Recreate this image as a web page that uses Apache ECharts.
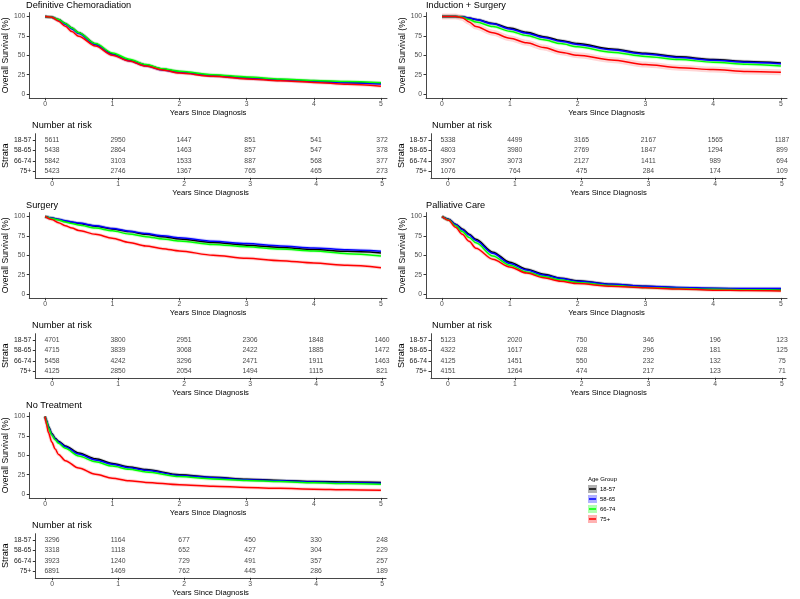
<!DOCTYPE html>
<html>
<head>
<meta charset="utf-8">
<script src="https://cdn.jsdelivr.net/npm/echarts@6/dist/echarts.min.js"></script>
<style>
  html, body { margin: 0; padding: 0; background: #fff; }
  #chart { width: 800px; height: 599px; }
</style>
</head>
<body>
<div id="chart"></div>
<script>
const strata = ['18-57', '58-65', '66-74', '75+'];
const strataColors = ['#000000', '#0000ff', '#00ff00', '#ff0000'];
const bandColors = ['rgba(0,0,0,0.3)', 'rgba(0,0,255,0.3)', 'rgba(0,255,0,0.3)', 'rgba(255,0,0,0.3)'];
const riskYears = [0, 1, 2, 3, 4, 5];
const tickYears = [0, 1, 2, 3, 4, 5];
const tickSurvival = [0, 25, 50, 75, 100];

const years = [0, 0.1, 0.2, 0.3, 0.4, 0.5, 0.75, 1, 1.25, 1.5, 1.75, 2, 2.5, 3, 3.5, 4, 4.5, 5];
const yearsNoTreatment = [0, 0.02, 0.05, 0.1, 0.15, 0.2, 0.3, 0.5, 0.75, 1, 1.25, 1.5, 2, 2.5, 3, 3.5, 4, 4.5, 5];

// survival (%) per age group: 18-57, 58-65, 66-74, 75+
const chemoradiationSurvival = [
  [100, 99, 96, 91, 85, 79, 64.5, 52, 44, 37.5, 32, 28.5, 24, 21, 18.5, 16.5, 15, 14],
  [100, 99, 95.5, 90, 84, 78, 63.5, 51, 43, 36.5, 31, 28, 23.5, 20.5, 18, 16, 14.5, 13],
  [100, 99, 96, 91, 85, 79, 65, 53, 45, 38, 32.5, 29.5, 25, 22, 19.5, 17.5, 16, 14.5],
  [100, 99, 94, 87.5, 80.5, 74.5, 62, 50, 42.5, 36, 31, 27, 23, 19.5, 17, 15, 12.5, 10]
];
const inductionSurvival = [
  [100, 100, 100, 99.5, 98, 96, 91, 85, 79.5, 74, 69, 65, 58, 52.5, 48, 44.5, 42, 40],
  [100, 100, 100, 99.5, 98, 96, 90.5, 84, 78.5, 73, 68, 64, 57, 51.5, 47, 43.5, 41, 39],
  [100, 100, 100, 99, 96, 93, 87, 81, 75.5, 70, 65, 61, 54, 48.5, 44.5, 41, 38.5, 36],
  [100, 100, 100, 98.5, 93, 87, 79, 72, 66, 60, 54, 50, 44, 38, 34, 31.5, 29, 28]
];
const surgerySurvival = [
  [100, 98, 96, 94, 92.5, 91, 87.5, 84, 80.5, 77, 74, 71, 66.5, 63, 60, 57.5, 55, 53],
  [100, 98, 96.5, 94.5, 93, 91.5, 88, 84.5, 81, 78, 75, 72.5, 68, 65, 62, 59.5, 57, 55],
  [100, 97.5, 95.5, 93, 91, 89, 85, 81.5, 77.5, 74, 71, 68.5, 64, 61, 58, 55.5, 52, 49],
  [100, 96, 92, 88, 85, 82, 77, 72, 66.5, 62, 58.5, 55.5, 50, 46, 43, 40, 37, 34]
];
const palliativeSurvival = [
  [100, 96.5, 90, 84, 77, 70.5, 54, 41, 32, 25.5, 20.5, 17, 12.5, 10, 8, 7, 6.5, 6.5],
  [100, 96, 89.5, 83, 76, 69, 52.5, 39.5, 31, 24.5, 20, 16.5, 12.5, 10, 8.5, 7.5, 7, 7],
  [100, 95.5, 88, 80.5, 73, 66, 49, 37, 28.5, 22.5, 18, 15, 11, 8.5, 7, 6, 5.5, 5],
  [100, 95, 86, 77, 68, 59, 45, 35, 27, 21, 16.5, 13.5, 10, 8, 6.5, 5, 4.5, 4]
];
const noTreatmentSurvival = [
  [100, 95, 87, 78, 72, 68, 62, 53, 45.5, 39.5, 35, 31.5, 25, 21.5, 19, 17.5, 16, 15.5, 15],
  [100, 94.5, 86, 77, 71, 67, 61, 51.5, 44, 38.5, 34, 30.5, 24, 21, 18.5, 17, 15.5, 14.5, 14],
  [100, 94, 85, 76, 70, 65.5, 59, 49, 41.5, 36, 32, 28.5, 22.5, 19.5, 17.5, 16, 14.5, 13.5, 12.7],
  [100, 90, 79, 67, 58, 51, 43, 33.5, 25.5, 20.5, 17, 15, 12, 10, 8.5, 7.3, 6.3, 5.5, 4.8]
];

// number at risk per age group at years 0..5
const chemoradiationAtRisk = [
  [5611, 2950, 1447, 851, 541, 372],
  [5438, 2864, 1463, 857, 547, 378],
  [5842, 3103, 1533, 887, 568, 377],
  [5423, 2746, 1367, 765, 465, 273]
];
const inductionAtRisk = [
  [5338, 4499, 3165, 2167, 1565, 1187],
  [4803, 3980, 2769, 1847, 1294, 899],
  [3907, 3073, 2127, 1411, 989, 694],
  [1076, 764, 475, 284, 174, 109]
];
const surgeryAtRisk = [
  [4701, 3800, 2951, 2306, 1848, 1460],
  [4715, 3839, 3068, 2422, 1885, 1472],
  [5458, 4242, 3296, 2471, 1911, 1463],
  [4125, 2850, 2054, 1494, 1115, 821]
];
const palliativeAtRisk = [
  [5123, 2020, 750, 346, 196, 123],
  [4322, 1617, 628, 296, 181, 125],
  [4125, 1451, 550, 232, 132, 75],
  [4151, 1264, 474, 217, 123, 71]
];
const noTreatmentAtRisk = [
  [3296, 1164, 677, 450, 330, 248],
  [3318, 1118, 652, 427, 304, 229],
  [3923, 1240, 729, 491, 357, 257],
  [6891, 1469, 762, 445, 286, 189]
];

const panels = [
  { title: 'Definitive Chemoradiation', col: 0, row: 0, x: years, survival: chemoradiationSurvival, atRisk: chemoradiationAtRisk },
  { title: 'Induction + Surgery', col: 1, row: 0, x: years, survival: inductionSurvival, atRisk: inductionAtRisk },
  { title: 'Surgery', col: 0, row: 1, x: years, survival: surgerySurvival, atRisk: surgeryAtRisk },
  { title: 'Palliative Care', col: 1, row: 1, x: years, survival: palliativeSurvival, atRisk: palliativeAtRisk },
  { title: 'No Treatment', col: 0, row: 2, x: yearsNoTreatment, survival: noTreatmentSurvival, atRisk: noTreatmentAtRisk }
];

const FONT = '"Liberation Sans", Arial, sans-serif';
const axisLine = { show: true, onZero: false, lineStyle: { color: '#333', width: 0.9 } };
const tickLabel = { fontSize: 6.8, color: '#4d4d4d', fontFamily: FONT };

const titles = [];
const grids = [];
const xAxes = [];
const yAxes = [];
const series = [];

panels.forEach((p, i) => {
  const ox = p.col * 400;
  const oy = p.row * 200;
  const gPlot = i * 2;
  const gTable = i * 2 + 1;

  titles.push({ text: p.title, left: ox + 26, top: oy + 1, padding: 0,
    textStyle: { fontSize: 9.2, fontWeight: 'normal', color: '#000', fontFamily: FONT } });
  titles.push({ text: 'Number at risk', left: ox + 32, top: oy + 121, padding: 0,
    textStyle: { fontSize: 9.2, fontWeight: 'normal', color: '#000', fontFamily: FONT } });

  grids.push({ left: ox + 26, top: oy + 12.6, width: 361, height: 85.3 });
  grids.push({ left: ox + 31, top: oy + 133.7, width: 355, height: 44.1 });

  const xName = {
    name: 'Years Since Diagnosis', nameLocation: 'middle', nameGap: 10,
    nameTextStyle: { fontSize: 7.7, color: '#000', fontFamily: FONT }
  };
  xAxes.push(Object.assign({
    type: 'value', gridIndex: gPlot, min: -0.236, max: 5.09,
    axisLine, splitLine: { show: false },
    axisTick: { show: true, length: 2.5, customValues: tickYears, lineStyle: { color: '#333' } },
    axisLabel: Object.assign({ customValues: tickYears, margin: 3 }, tickLabel)
  }, xName));
  xAxes.push(Object.assign({
    type: 'value', gridIndex: gTable, min: -0.254, max: 5.06,
    axisLine, splitLine: { show: false },
    axisTick: { show: true, length: 2.5, customValues: tickYears, lineStyle: { color: '#333' } },
    axisLabel: Object.assign({ customValues: tickYears, margin: 3 }, tickLabel)
  }, xName));

  yAxes.push({
    type: 'value', gridIndex: gPlot, min: -5, max: 105,
    axisLine, splitLine: { show: false },
    axisTick: { show: true, length: 2.5, customValues: tickSurvival, lineStyle: { color: '#333' } },
    axisLabel: Object.assign({ customValues: tickSurvival, margin: 4 }, tickLabel),
    name: 'Overall Survival (%)', nameLocation: 'middle', nameRotate: 90, nameGap: 15,
    nameTextStyle: { fontSize: 8.6, color: '#000', fontFamily: FONT }
  });
  yAxes.push({
    type: 'value', gridIndex: gTable, min: 0.4, max: 4.6,
    axisLine, splitLine: { show: false },
    axisTick: { show: true, length: 2.5, customValues: [1, 2, 3, 4], lineStyle: { color: '#333' } },
    axisLabel: Object.assign({ customValues: [1, 2, 3, 4], margin: 4,
      formatter: (v) => strata[4 - Math.round(v)] }, tickLabel, { color: '#222' }),
    name: 'Strata', nameLocation: 'middle', nameRotate: 90, nameGap: 20,
    nameTextStyle: { fontSize: 9.2, color: '#000', fontFamily: FONT }
  });

  // confidence halo lines first, then curves
  p.survival.forEach((vals, k) => {
    series.push({
      type: 'line', xAxisIndex: gPlot, yAxisIndex: gPlot, silent: true,
      data: p.x.map((t, j) => [t, vals[j]]),
      showSymbol: false, smooth: 0.3, smoothMonotone: 'x',
      lineStyle: { color: strataColors[k], width: (i === 1 && k === 3) ? 6 : 3.5, opacity: 0.16 },
      z: 1
    });
  });
  p.survival.forEach((vals, k) => {
    series.push({
      type: 'line', name: strata[k], xAxisIndex: gPlot, yAxisIndex: gPlot, silent: true,
      data: p.x.map((t, j) => [t, vals[j]]),
      showSymbol: false, smooth: 0.3, smoothMonotone: 'x',
      lineStyle: { color: strataColors[k], width: 1.5 },
      z: 2
    });
  });

  // risk table text
  const tableData = [];
  p.atRisk.forEach((row, k) => {
    row.forEach((n, j) => tableData.push([riskYears[j], 4 - k, n]));
  });
  series.push({
    type: 'scatter', xAxisIndex: gTable, yAxisIndex: gTable, silent: true,
    symbolSize: 1, itemStyle: { color: 'transparent' },
    data: tableData,
    label: { show: true, position: 'inside', formatter: (d) => String(d.value[2]),
      fontSize: 6.8, color: '#111', fontFamily: FONT }
  });
});

// legend drawn as graphic keys
const legendItems = [{ type: 'text', left: 588, top: 476,
  style: { text: 'Age Group', fontSize: 6, fill: '#000', fontFamily: FONT } }];
strata.forEach((s, k) => {
  const y = 485 + k * 10;
  legendItems.push({ type: 'rect', left: 588, top: y, shape: { width: 9, height: 8 },
    style: { fill: bandColors[k] } });
  legendItems.push({ type: 'line', shape: { x1: 589, y1: y + 4, x2: 596, y2: y + 4 },
    style: { stroke: strataColors[k], lineWidth: 1.5 } });
  legendItems.push({ type: 'text', left: 600, top: y + 1,
    style: { text: s, fontSize: 6, fill: '#000', fontFamily: FONT } });
});

const chart = echarts.init(document.getElementById('chart'), null, { renderer: 'canvas' });
chart.setOption({
  backgroundColor: '#fff',
  animation: false,
  textStyle: { fontFamily: FONT },
  title: titles,
  grid: grids,
  xAxis: xAxes,
  yAxis: yAxes,
  series,
  graphic: legendItems
});
</script>
</body>
</html>
